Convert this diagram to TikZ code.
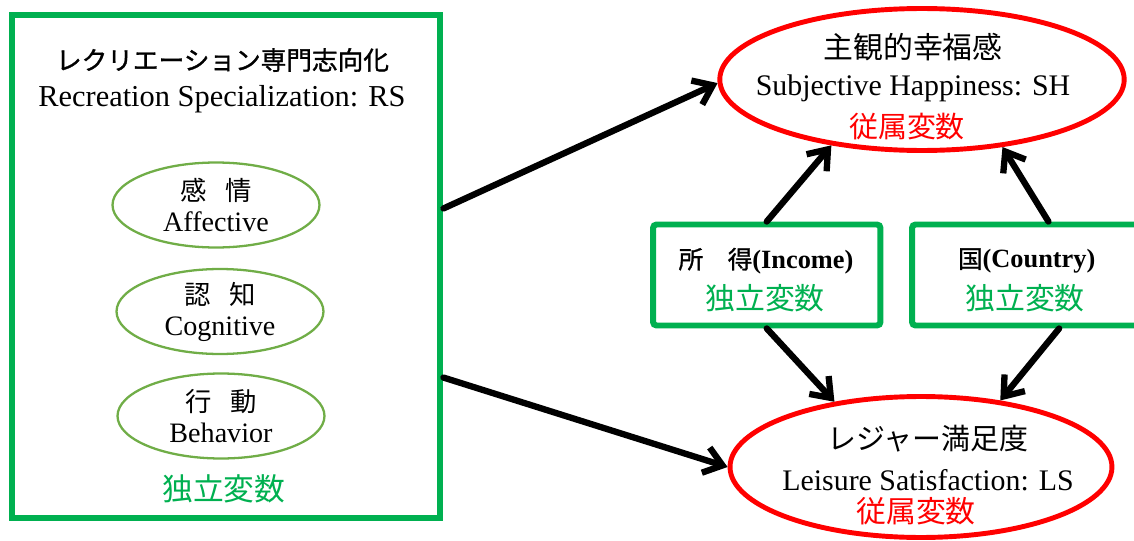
\documentclass[tikz,border=0pt]{standalone}
\usepackage{fontspec}
\setmainfont{Liberation Serif}
\newfontfamily\jpfont{Noto Sans CJK JP}
\newfontfamily\jpboldfont[FakeBold=1.2]{Noto Sans CJK JP}
\usetikzlibrary{positioning}
\usetikzlibrary{shapes.geometric}
\usetikzlibrary{arrows.meta}

\definecolor{ivgreen}{HTML}{00B050}
\definecolor{facetgreen}{HTML}{70AD47}
\definecolor{dvred}{HTML}{FF0000}

\newcommand{\jp}[2]{{\jpfont\fontsize{#1}{#1}\selectfont #2}}
\newcommand{\jpb}[2]{{\jpboldfont\fontsize{#1}{#1}\selectfont #2}}
\newcommand{\lat}[2]{{\fontsize{#1}{#1}\selectfont #2}}

\begin{document}
\begin{tikzpicture}[x=0.02cm,y=-0.02cm,
	ivbox/.style={draw=ivgreen,line width=3.4pt,rectangle,inner sep=0pt},
	facet/.style={draw=facetgreen,line width=1.3pt,ellipse,inner sep=0pt,minimum width=4.14cm,minimum height=1.7cm,align=center,font=\fontsize{16pt}{17.6pt}\selectfont},
	dv/.style={draw=dvred,line width=2.8pt,ellipse,inner sep=0pt},
	arr/.style={black,line width=3.6pt,line cap=round,-{Straight Barb[length=10pt,width=15pt]}}]

	\useasboundingbox (0,0) rectangle (1134,541);

	% recreation specialization block
	\node[ivbox,minimum width=8.58cm,minimum height=10.07cm] at (226,266.75) (rs) {};
	\node at (222.5,60) (rstitle) {\jpb{14.6pt}{レクリエーション専門志向化}};
	\node at (222,99) (rsname) {\lat{17.3pt}{Recreation Specialization: RS}};

	\node[facet] at (216,205) (aff) {{\jpfont\fontsize{15pt}{17.6pt}\selectfont 感\hspace{0.7em}情}\\Affective};
	\node[facet] at (220,311.5) (cog) {{\jpfont\fontsize{15pt}{17.6pt}\selectfont 認\hspace{0.7em}知}\\Cognitive};
	\node[facet] at (221,416) (beh) {{\jpfont\fontsize{15pt}{17.6pt}\selectfont 行\hspace{0.7em}動}\\Behavior};

	\node[text=ivgreen] at (224,489) (rsiv) {\jp{17.5pt}{独立変数}};

	% dependent variables
	\node[dv,minimum width=8.09cm,minimum height=2.84cm] at (922,79.5) (sh) {};
	\node at (913,47) (shjp) {\jp{17pt}{主観的幸福感}};
	\node at (913,88) (shen) {\lat{17pt}{Subjective Happiness: SH}};
	\node[text=dvred] at (907,127) (shdv) {\jp{16.5pt}{従属変数}};

	\node[dv,minimum width=7.64cm,minimum height=2.82cm] at (921,467) (ls) {};
	\node at (928,439) (lsjp) {\jp{16.5pt}{レジャー満足度}};
	\node at (928,480) (lsen) {\lat{17pt}{Leisure Satisfaction: LS}};
	\node[text=dvred] at (916,511) (lsdv) {\jp{17pt}{従属変数}};

	% income and country
	\node[ivbox,rounded corners=2pt,minimum width=4.55cm,minimum height=2.02cm] at (766.75,275) (inc) {};
	\node at (766,261) (incname) {\jpb{14pt}{所　得}\lat{15pt}{\bfseries (Income)}};
	\node[text=ivgreen] at (765,298.5) (inciv) {\jp{17pt}{独立変数}};

	\node[ivbox,rounded corners=2pt,minimum width=4.55cm,minimum height=2.02cm] at (1025.75,275) (cty) {};
	\node at (1026.7,261) (ctyname) {\jpb{14pt}{国}\lat{15pt}{\bfseries (Country)}};
	\node[text=ivgreen] at (1025,298.5) (ctyiv) {\jp{17pt}{独立変数}};

	\draw[arr] (rs.15) to (sh.181);
	\draw[arr] (rs.-27) to (ls.west);
	\draw[arr] (inc.north) to (sh.216);
	\draw[arr] (cty.67) to (sh.320);
	\draw[arr] (inc.south) to (ls.143);
	\draw[arr] (cty.-58) to (ls.40);
\end{tikzpicture}
\end{document}
